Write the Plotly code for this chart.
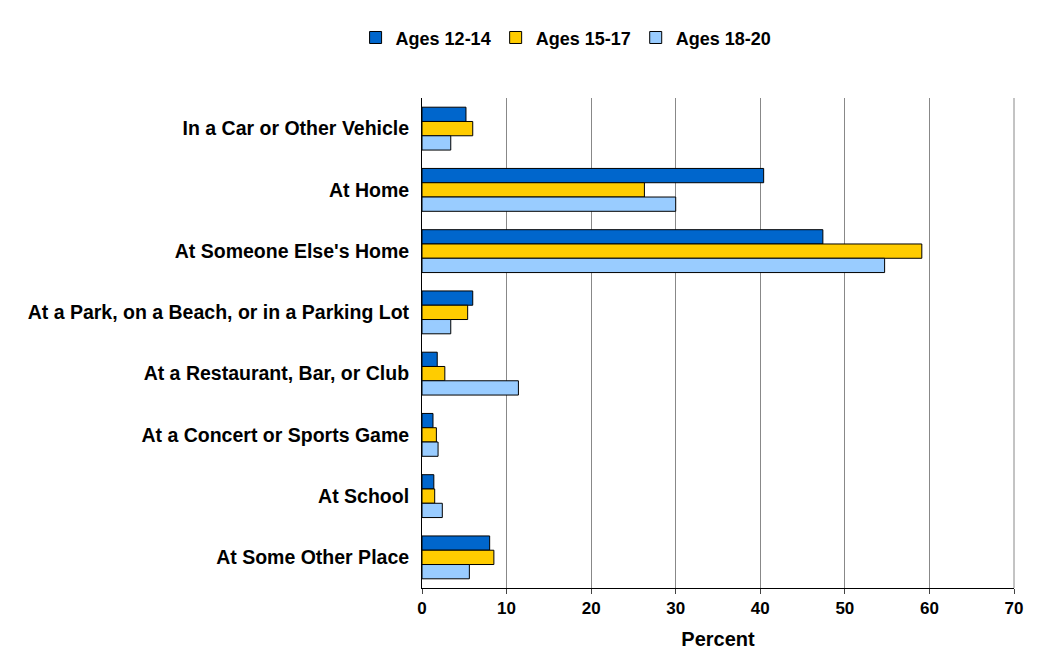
import plotly.graph_objects as go

places = ["In a Car or Other Vehicle", "At Home", "At Someone Else's Home",
          "At a Park, on a Beach, or in a Parking Lot", "At a Restaurant, Bar, or Club",
          "At a Concert or Sports Game", "At School", "At Some Other Place"]
ages_12_14 = [5.2, 40.4, 47.4, 6.0, 1.8, 1.3, 1.4, 8.0]
ages_15_17 = [6.0, 26.3, 59.1, 5.4, 2.7, 1.7, 1.5, 8.5]
ages_18_20 = [3.4, 30.0, 54.7, 3.4, 11.4, 1.9, 2.4, 5.6]

series = [("Ages 12-14", ages_12_14, "#0066CC"),
          ("Ages 15-17", ages_15_17, "#FFCC00"),
          ("Ages 18-20", ages_18_20, "#99CCFF")]

fig = go.Figure()
for name, vals, col in series:
    fig.add_trace(go.Bar(y=places, x=vals, name=name, orientation="h",
                         marker=dict(color=col, line=dict(color="black", width=1))))

fig.update_layout(
    width=1053, height=662,
    barmode="group", bargap=0.3, bargroupgap=0,
    font=dict(family="Liberation Sans, Arial", size=17, color="black"),
    plot_bgcolor="white", paper_bgcolor="white",
    margin=dict(l=414, r=47, t=90, b=82, autoexpand=False),
    legend=dict(orientation="h", xref="container", x=0.53, xanchor="center",
                yref="container", y=0.955, yanchor="middle",
                font=dict(size=18, family="Liberation Sans, Arial", weight="bold"),
                traceorder="normal"),
    xaxis=dict(range=[0, 70], dtick=10, showgrid=True, gridcolor="#888888",
               showline=True, linecolor="black", ticks="outside", ticklen=5,
               tickfont=dict(weight="bold", size=17), zeroline=False,
               title=dict(text="<b>Percent</b>", standoff=14)),
    yaxis=dict(autorange="reversed", showline=True, linecolor="black",
               tickfont=dict(weight="bold", size=19.5), ticks="", ticklabelstandoff=8),
)
fig.add_shape(type="line", xref="paper", yref="paper", x0=1, x1=1, y0=0, y1=1,
              line=dict(color="#888888", width=1))
fig.write_html("out.html")
